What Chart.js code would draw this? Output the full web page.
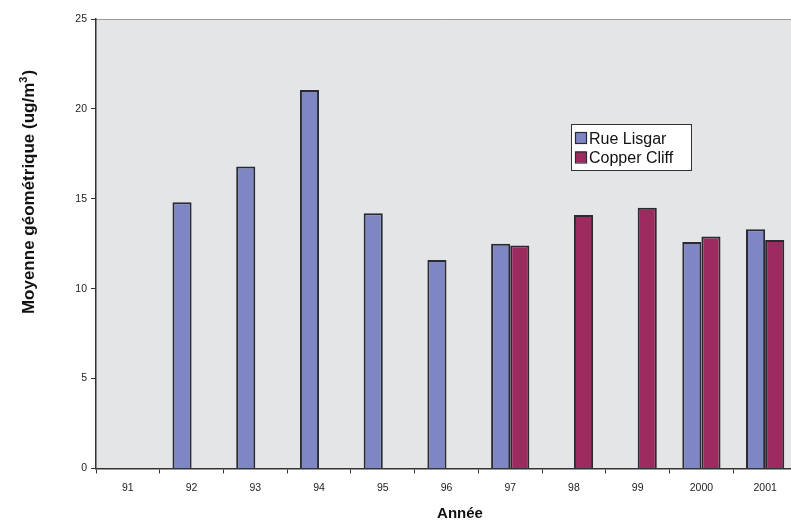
<!DOCTYPE html>
<html>
<head>
<meta charset="utf-8">
<script src="https://cdn.jsdelivr.net/npm/chart.js@4.4.1/dist/chart.umd.min.js"></script>
<style>
html,body{margin:0;padding:0;background:#fff;overflow:hidden;width:791px;height:521px;}
#wrap{position:absolute;left:0;top:0;width:802px;height:521px;}
</style>
</head>
<body>
<div id="wrap"><canvas id="c" width="802" height="521"></canvas></div>
<script>
const categories = ['91','92','93','94','95','96','97','98','99','2000','2001'];
const rueLisgar = [null,14.8,16.8,21.05,14.2,11.6,12.5,null,null,12.6,13.3];
const copperCliff = [null,null,null,null,null,null,12.4,14.1,14.5,12.9,12.7];
const seriesNames = ['Rue Lisgar','Copper Cliff'];
const yTicks = [0,5,10,15,20,25];
const xTitle = 'Année';
const yTitleMain = 'Moyenne géométrique (ug/m';
const yTitleSup = '3';
const yTitleEnd = ')';

const FONT = 'Arial, "Liberation Sans", sans-serif';

const bgPlugin = {
  id:'bgPlugin',
  beforeDraw(chart){
    const {ctx, chartArea:a} = chart;
    ctx.save();
    ctx.fillStyle = '#e4e5e7';
    ctx.fillRect(a.left, a.top, a.right-a.left, a.bottom-a.top);
    ctx.strokeStyle = '#9a9a9a';
    ctx.lineWidth = 1;
    ctx.beginPath();
    ctx.moveTo(a.left, a.top+0.5);
    ctx.lineTo(a.right, a.top+0.5);
    ctx.moveTo(a.right-0.5, a.top);
    ctx.lineTo(a.right-0.5, a.bottom);
    ctx.stroke();
    ctx.restore();
  }
};

const titlesPlugin = {
  id:'titles',
  afterDraw(chart){
    const {ctx} = chart;
    ctx.save();
    ctx.fillStyle = '#111111';
    ctx.font = 'bold 15px ' + FONT;
    ctx.textAlign = 'center';
    ctx.textBaseline = 'alphabetic';
    ctx.fillText(xTitle, 460, 518);
    ctx.translate(34, 192);
    ctx.rotate(-Math.PI/2);
    ctx.font = 'bold 17px ' + FONT;
    const w1 = ctx.measureText(yTitleMain).width;
    ctx.font = 'bold 11px ' + FONT;
    const w2 = ctx.measureText(yTitleSup).width;
    ctx.font = 'bold 17px ' + FONT;
    const w3 = ctx.measureText(yTitleEnd).width;
    const total = w1 + w2 + w3 + 1;
    let x0 = -total/2;
    ctx.textAlign = 'left';
    ctx.fillText(yTitleMain, x0, 0);
    ctx.font = 'bold 11px ' + FONT;
    ctx.fillText(yTitleSup, x0 + w1, -7);
    ctx.font = 'bold 17px ' + FONT;
    ctx.fillText(yTitleEnd, x0 + w1 + w2 + 1, 0);
    ctx.restore();
  }
};

const legendPlugin = {
  id:'boxLegend',
  afterDraw(chart){
    const {ctx} = chart;
    const x = 571, y = 124, w = 120, h = 46;
    ctx.save();
    ctx.fillStyle = '#ffffff';
    ctx.fillRect(x, y, w, h);
    ctx.strokeStyle = '#333333';
    ctx.lineWidth = 1;
    ctx.strokeRect(x+0.5, y+0.5, w, h);
    ctx.font = '16px ' + FONT;
    ctx.textBaseline = 'alphabetic';
    chart.data.datasets.forEach((ds, i) => {
      const sy = 132 + i*19.5;
      ctx.fillStyle = ds.backgroundColor;
      ctx.fillRect(575, sy, 11, 11);
      ctx.strokeStyle = '#2a2a33';
      ctx.lineWidth = 1.2;
      ctx.strokeRect(575.5, sy+0.5, 11, 11);
      ctx.fillStyle = '#111111';
      ctx.fillText(ds.label, 589, sy + 11.5);
    });
    ctx.restore();
  }
};

new Chart(document.getElementById('c'), {
  type:'bar',
  data:{
    labels: categories,
    datasets:[
      {label: seriesNames[0], data: rueLisgar, backgroundColor:'#7f86c4', borderColor:'#2a2a33', borderWidth:2},
      {label: seriesNames[1], data: copperCliff, backgroundColor:'#9e2b60', borderColor:'#2a2a33', borderWidth:2}
    ]
  },
  options:{
    responsive:false,
    animation:false,
    devicePixelRatio:1,
    categoryPercentage:0.6,
    barPercentage:1.0,
    layout:{padding:{left:75, top:19, right:5, bottom:19}},
    plugins:{legend:{display:false}, tooltip:{enabled:false}},
    scales:{
      x:{
        grid:{display:true, drawOnChartArea:false, tickLength:5, color:'#333', offset:true},
        border:{display:true, color:'#333', width:1.5},
        ticks:{font:{family:FONT, size:10.5}, color:'#222', padding:8, maxRotation:0},
        title:{display:false}
      },
      y:{
        min:0, max:25,
        afterBuildTicks(axis){ axis.ticks = yTicks.map(v=>({value:v})); },
        afterFit(axis){ axis.width = 21; },
        grid:{display:true, drawOnChartArea:false, tickLength:5, color:'#333'},
        border:{display:true, color:'#333', width:1.5},
        ticks:{font:{family:FONT, size:10.5}, color:'#222', padding:4},
        title:{display:false}
      }
    }
  },
  plugins:[bgPlugin, titlesPlugin, legendPlugin]
});
</script>
</body>
</html>
